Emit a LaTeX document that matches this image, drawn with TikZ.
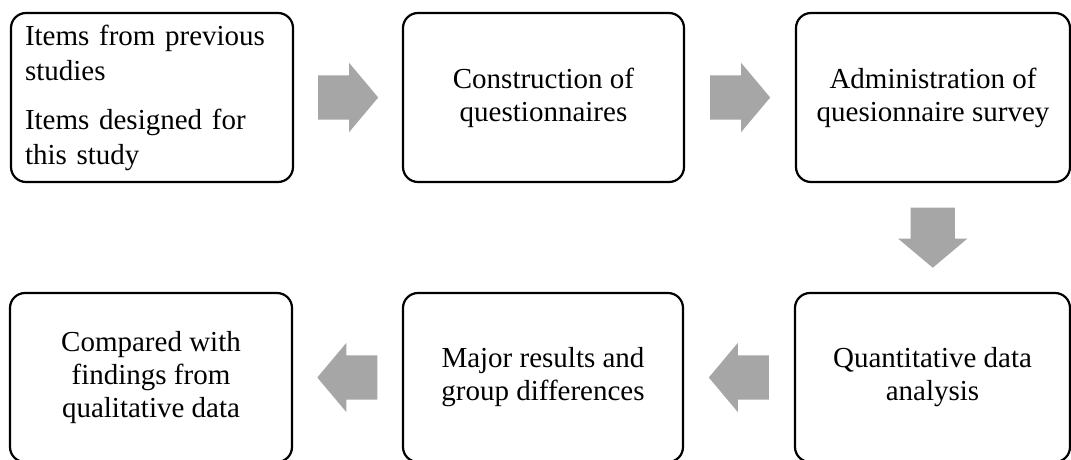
\documentclass[tikz,border=0pt]{standalone}
\usepackage{fontspec}
\setmainfont{Liberation Serif}
\usetikzlibrary{shapes.arrows,calc}
\definecolor{arrowgray}{HTML}{A6A6A6}
\tikzset{
  stage/.style={draw, line width=2.2pt, rounded corners=15pt, minimum width=282pt, minimum height=169pt, inner sep=0pt, align=center, font=\fontsize{29}{33}\selectfont},
  bigarrow/.style={single arrow, fill=arrowgray, draw=none, anchor=tail, minimum height=60pt, minimum width=69pt, single arrow head extend=12.5pt, single arrow tip angle=100, inner xsep=0pt, inner ysep=22pt}
}

\begin{document}
\begin{tikzpicture}[x=1pt,y=-1pt]
		\useasboundingbox (0,0) rectangle (1071,460);
		
		\node[stage, align=left, text width=254pt, font=\fontsize{29}{35}\selectfont] (items) at (152,97.5) {Items from previous\\studies\\[14pt]Items designed for\\this study};
		\node[stage, minimum width=281pt] (constr) at (543.5,97.5) {Construction of\\questionnaires};
		\node[stage, minimum width=274pt] (admin) at (933,97.5) {Administration of\\quesionnaire survey};
		
		\node[stage, minimum width=275pt] (quant) at (932.5,377.5) {Quantitative data\\analysis};
		\node[stage, minimum width=280pt] (major) at (543,377.5) {Major results and\\group differences};
		\node[stage] (compared) at (151,377.5) {Compared with\\findings from\\qualitative data};
		
		\node[bigarrow] (step1) at ($(items.east)!0.5!(constr.west)+(-30,0)$) {};
		\node[bigarrow] (step2) at ($(constr.east)!0.5!(admin.west)+(-30,0)$) {};
		\node[bigarrow, rotate=-90] (step3) at ($(admin.south)!0.5!(quant.north)+(0,-30)$) {};
		\node[bigarrow, rotate=180] (step4) at ($(quant.west)!0.5!(major.east)+(30,0)$) {};
		\node[bigarrow, rotate=180] (step5) at ($(major.west)!0.5!(compared.east)+(30,0)$) {};
\end{tikzpicture}
\end{document}
